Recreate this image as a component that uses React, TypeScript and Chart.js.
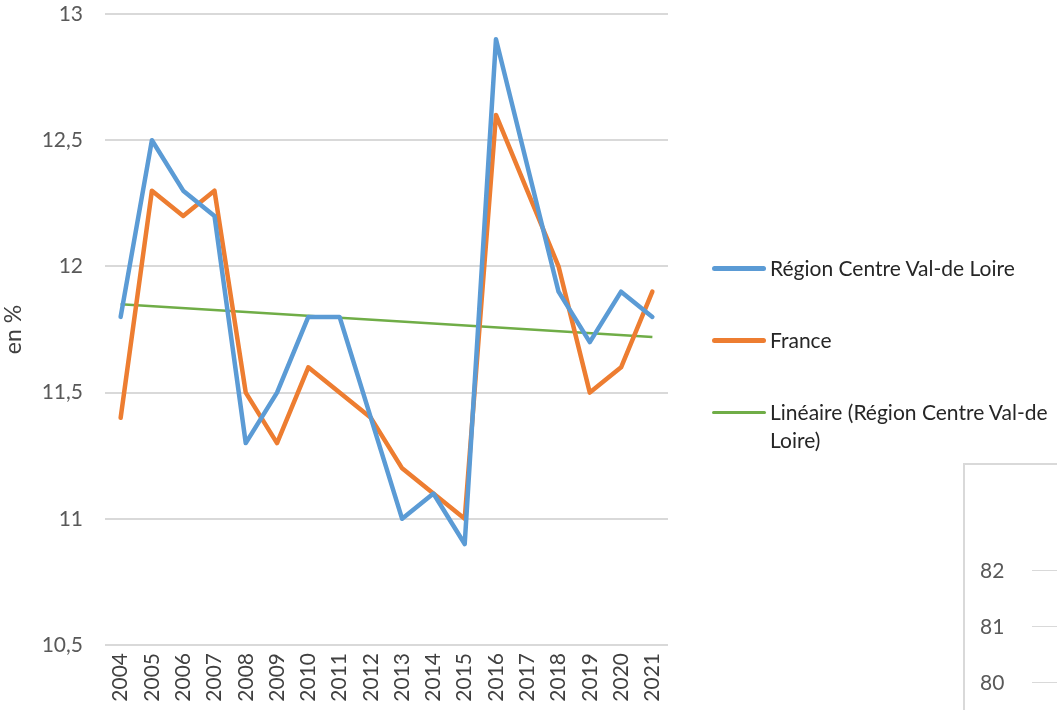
import React, { useEffect, useRef } from "react";
import { Chart, registerables } from "chart.js";

Chart.register(...registerables);

const years = ["2004","2005","2006","2007","2008","2009","2010","2011","2012","2013","2014","2015","2016","2017","2018","2019","2020","2021"];
const regionValues = [11.8,12.5,12.3,12.2,11.3,11.5,11.8,11.8,11.4,11.0,11.1,10.9,12.9,12.4,11.9,11.7,11.9,11.8];
const franceValues = [11.4,12.3,12.2,12.3,11.5,11.3,11.6,11.5,11.4,11.2,11.1,11.0,12.6,12.3,12.0,11.5,11.6,11.9];
// Trend line read at its two ends (Excel linear trendline)
const trendValues: (number | null)[] = [11.85,null,null,null,null,null,null,null,null,null,null,null,null,null,null,null,null,11.72];
const legendLabels = ["Région Centre Val-de Loire", "France", "Linéaire (Région Centre Val-de Loire)"];
const secondChartTicks = ["82", "81", "80"];

const BLUE = "#5B9BD5";
const ORANGE = "#ED7D31";
const GREEN = "#70AD47";
const GRID = "#D9D9D9";
const TEXT = "#595959";
const FONT = "Lato, 'Open Sans', sans-serif";

export default function App() {
  const ref = useRef<HTMLCanvasElement>(null);
  useEffect(() => {
    if (!ref.current) return;
    const chart = new Chart(ref.current, {
      type: "line",
      data: {
        labels: years,
        datasets: [
          { label: legendLabels[0], data: regionValues, borderColor: BLUE, borderWidth: 4.5, pointRadius: 0, tension: 0, borderJoinStyle: "round", borderCapStyle: "round" },
          { label: legendLabels[1], data: franceValues, borderColor: ORANGE, borderWidth: 4.5, pointRadius: 0, tension: 0, borderJoinStyle: "round", borderCapStyle: "round" },
          { label: legendLabels[2], data: trendValues, borderColor: GREEN, borderWidth: 2.5, pointRadius: 0, tension: 0, spanGaps: true },
        ],
      },
      options: {
        responsive: false,
        animation: false,
        layout: { padding: { top: 14, left: 0, right: 389, bottom: 0 } },
        plugins: { legend: { display: false }, tooltip: { enabled: false } },
        scales: {
          x: {
            offset: true,
            grid: { display: false, drawTicks: false },
            border: { display: false },
            ticks: { minRotation: 90, maxRotation: 90, padding: 8, color: "#404040", font: { family: FONT, size: 21 } },
            afterFit: (s: any) => { s.height = 65; s.paddingLeft = 0; s.paddingRight = 0; },
          },
          y: {
            min: 10.5,
            max: 13,
            grid: { color: GRID, lineWidth: 2, drawTicks: false },
            border: { display: false },
            ticks: {
              stepSize: 0.5,
              padding: 22,
              color: TEXT,
              font: { family: FONT, size: 21 },
              callback: (v: any) => String(v).replace(".", ","),
            },
            title: { display: true, text: "en %", color: "#404040", font: { family: FONT, size: 23 }, padding: { top: 0, bottom: 0 } },
            afterFit: (s: any) => { s.width = 105; s.paddingTop = 0; s.paddingBottom = 0; },
          },
        },
      },
    });
    return () => chart.destroy();
  }, []);

  const legendItem = (i: number, top: number, color: string, thick: number) => (
    <div key={i} style={{ position: "absolute", left: 712, top, display: "flex", alignItems: "flex-start" }}>
      <div style={{ width: 54, height: thick, background: color, borderRadius: thick / 2, marginTop: 14 - thick / 2 }} />
      <div style={{ marginLeft: 4, fontSize: 21, lineHeight: "28px", color: "#262626", width: 300 }}>{legendLabels[i]}</div>
    </div>
  );

  return (
    <div style={{ position: "absolute", left: 0, top: 0, width: 1057, height: 710, overflow: "hidden", background: "#fff", fontFamily: FONT }}>
      <canvas ref={ref} width={1057} height={710} style={{ position: "absolute", left: 0, top: 0 }} />
      {legendItem(0, 254, BLUE, 5)}
      {legendItem(1, 326, ORANGE, 5)}
      {legendItem(2, 398, GREEN, 3)}
      <div style={{ position: "absolute", left: 963, top: 463, width: 120, height: 300, borderLeft: `2px solid ${GRID}`, borderTop: `2px solid ${GRID}` }} />
      {secondChartTicks.map((t, i) => (
        <div key={t}>
          <div style={{ position: "absolute", left: 980, top: 570 + i * 56 - 14, fontSize: 21, lineHeight: "28px", color: TEXT }}>{t}</div>
          <div style={{ position: "absolute", left: 1032, top: 570 + i * 56, width: 30, height: 1, background: GRID }} />
        </div>
      ))}
    </div>
  );
}
